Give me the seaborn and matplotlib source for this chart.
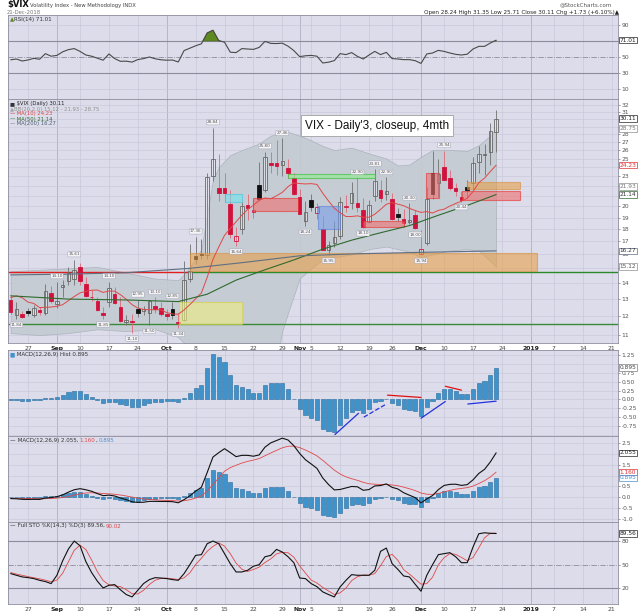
import matplotlib
matplotlib.use("Agg")
import matplotlib.pyplot as plt
import matplotlib.patches as mpatches
import numpy as np
import pandas as pd
import seaborn as sns

sns.set_style("white")
plt.rcParams["font.family"] = ["DejaVu Sans"]

W, H = 640, 614
BG = "#dcdcea"
GRID = "#c8c8da"
MONTH_GRID = "#a6a6bc"
RED = "#d2123c"

# trading days on the chart axis (market holidays left out)
days = pd.bdate_range("2018-08-22", "2019-01-22")
days = days[~days.isin(pd.to_datetime(["2018-09-03", "2018-11-22", "2018-12-05", "2018-12-25"]))]

tick_dates = ["2018-08-27", "2018-09-04", "2018-09-10", "2018-09-17", "2018-09-24", "2018-10-01",
              "2018-10-08", "2018-10-15", "2018-10-22", "2018-10-29", "2018-11-01", "2018-11-05",
              "2018-11-12", "2018-11-19", "2018-11-26", "2018-12-03", "2018-12-10", "2018-12-17",
              "2018-12-24", "2019-01-01", "2019-01-07", "2019-01-14", "2019-01-21"]
tick_text = ["27", "Sep", "10", "17", "24", "Oct", "8", "15", "22", "29", "Nov", "5", "12", "19",
             "26", "Dec", "10", "17", "24", "2019", "7", "14", "21"]
month_labels = {"Sep", "Oct", "Nov", "Dec", "2019"}

# daily $VIX candles, 22 Aug - 21 Dec 2018
prev_close = 12.86
open_ = [12.95, 12.05, 12.15, 12.30, 12.05, 12.35, 12.20, 13.40, 12.70, 13.75,
         14.15, 14.30, 15.10, 13.95, 13.10, 12.90, 12.20, 12.85, 13.30, 12.55,
         11.70, 11.75, 12.40, 12.30, 12.20, 12.60, 12.50, 12.15, 12.40, 11.70,
         11.80, 14.30, 15.90, 16.05, 15.95, 23.00, 21.80, 21.80, 20.20, 17.05,
         18.05, 20.10, 19.50, 22.10, 21.60, 24.50, 24.50, 24.30, 23.90, 22.80,
         20.90, 18.70, 20.60, 19.40, 18.00, 16.35, 16.90, 17.40, 19.95, 20.30,
         20.35, 19.70, 18.60, 21.00, 21.60, 21.20, 20.70, 19.30, 18.90, 18.60,
         19.20, 16.00, 16.90, 23.40, 22.30, 24.00, 22.80, 21.80, 20.90, 21.90,
         22.30, 24.60, 25.40, 25.80, 28.24]
high = [13.20, 12.85, 12.30, 12.50, 12.65, 12.55, 13.95, 13.80, 14.10, 14.20,
        15.10, 15.61, 15.40, 14.40, 13.55, 13.10, 12.55, 14.10, 13.75, 13.10,
        12.05, 12.15, 12.95, 12.60, 12.95, 13.10, 12.85, 12.40, 12.85, 12.20,
        15.55, 16.80, 17.36, 17.20, 23.40, 28.84, 25.50, 23.40, 21.60, 18.20,
        20.40, 21.20, 20.75, 24.59, 25.80, 25.80, 27.30, 27.46, 24.90, 23.40,
        21.70, 20.50, 21.20, 20.30, 19.10, 17.00, 18.70, 20.90, 21.10, 22.40,
        22.90, 20.80, 20.65, 23.81, 22.60, 22.90, 21.30, 19.90, 19.75, 20.30,
        19.70, 17.90, 21.90, 25.94, 24.90, 25.94, 23.70, 22.30, 21.50, 22.60,
        25.20, 26.50, 26.80, 29.50, 31.35]
low = [12.15, 11.84, 11.90, 12.00, 11.98, 12.10, 12.10, 12.75, 12.45, 13.15,
       13.90, 13.88, 13.90, 13.10, 12.90, 12.30, 11.85, 12.55, 12.70, 11.70,
       11.55, 11.10, 11.98, 12.05, 11.50, 12.20, 12.00, 11.80, 11.85, 11.34,
       11.75, 14.05, 15.30, 15.70, 15.70, 22.50, 20.50, 20.40, 17.30, 16.64,
       17.60, 18.80, 19.00, 20.50, 21.40, 23.40, 23.10, 23.00, 22.80, 21.10,
       19.30, 18.24, 19.60, 18.90, 16.30, 15.95, 16.55, 17.20, 19.50, 19.80,
       19.50, 18.10, 18.50, 20.50, 20.40, 20.60, 18.80, 18.70, 18.30, 18.40,
       18.00, 15.94, 16.70, 20.70, 20.90, 22.60, 21.60, 21.00, 20.44, 20.80,
       21.70, 23.40, 23.20, 24.30, 25.71]
close = [12.25, 12.41, 11.99, 12.16, 12.50, 12.25, 13.53, 12.86, 12.88, 13.91,
         14.65, 14.88, 14.16, 13.22, 13.14, 12.37, 12.07, 13.68, 12.79, 11.75,
         11.80, 11.68, 12.20, 12.42, 12.89, 12.41, 12.12, 12.00, 12.05, 11.61,
         14.22, 14.82, 15.69, 15.95, 22.96, 24.98, 21.31, 21.30, 17.62, 17.40,
         20.06, 19.89, 19.64, 20.71, 25.23, 24.22, 24.16, 24.70, 23.35, 21.23,
         19.34, 19.51, 19.96, 19.91, 16.36, 16.72, 17.36, 20.45, 20.02, 21.25,
         19.98, 18.14, 20.10, 22.48, 20.80, 21.52, 18.90, 19.02, 18.49, 18.79,
         18.07, 16.44, 20.74, 21.19, 23.23, 22.64, 21.76, 21.46, 20.65, 21.63,
         24.52, 25.58, 25.58, 28.38, 30.11]

ma10 = [13.09, 13.20, 13.08, 12.82, 12.74, 12.50, 12.51, 12.53, 12.57, 12.67,
        12.91, 13.16, 13.38, 13.48, 13.55, 13.56, 13.41, 13.50, 13.49, 13.27,
        12.99, 12.67, 12.47, 12.39, 12.37, 12.37, 12.37, 12.21, 12.13, 12.12,
        12.36, 12.67, 13.02, 13.38, 14.38, 15.64, 16.56, 17.49, 18.05, 18.63,
        19.21, 19.72, 20.11, 20.59, 20.81, 20.74, 21.02, 21.36, 21.94, 22.32,
        22.25, 22.21, 22.24, 22.16, 21.27, 20.52, 19.84, 19.42, 19.09, 19.09,
        19.15, 19.02, 19.03, 19.29, 19.73, 20.21, 20.36, 20.22, 20.07, 19.82,
        19.63, 19.46, 19.53, 19.40, 19.64, 19.75, 20.04, 20.28, 20.50, 20.78,
        21.43, 22.34, 22.82, 23.54, 24.23]
ma50_day = [0, 10, 20, 29, 34, 39, 44, 49, 54, 59, 64, 69, 74, 79, 84]
ma50 = [13.2, 13.0, 12.95, 12.85, 13.3, 14.2, 14.9, 15.6, 16.4, 17.1, 17.7, 18.3, 19.2, 20.1, 21.14]
ma200_day = [0, 10, 20, 31, 40, 50, 60, 70, 84]
ma200 = [14.55, 14.6, 14.7, 15.0, 15.4, 15.9, 16.05, 16.15, 16.27]
bb_day = [0, 5, 10, 15, 20, 25, 29, 30, 31, 32, 33, 34, 35, 36, 38, 40, 43, 45, 47, 48,
          50, 52, 54, 56, 59, 62, 65, 67, 69, 71, 73, 76, 79, 81, 83, 84]
bb_upper = [14.8, 14.9, 15.0, 15.1, 14.7, 14.3, 14.2, 14.6, 15.1, 15.7, 16.4, 19.3, 22.6, 24.0,
            25.4, 26.0, 26.8, 27.8, 28.2, 28.3, 27.8, 27.2, 26.5, 26.0, 26.3, 25.6, 25.0, 24.2,
            24.3, 25.2, 26.0, 26.0, 25.9, 26.6, 27.8, 28.75]
bb_lower = [11.1, 11.0, 11.1, 11.3, 11.2, 11.3, 10.9, 10.6, 10.3, 10.0, 9.6, 8.5, 7.5, 7.2,
            7.0, 7.3, 7.8, 8.6, 11.2, 12.2, 14.3, 15.0, 15.6, 15.8, 16.0, 16.4, 16.6, 16.4,
            16.2, 15.8, 16.0, 16.3, 16.4, 16.3, 15.5, 15.12]

rsi = [46.5, 47.5, 45.0, 46.3, 48.3, 47.2, 54.2, 51.0, 52.0, 56.5,
       59.2, 60.5, 57.0, 52.5, 51.0, 48.5, 46.0, 53.8, 48.0, 44.6,
       44.8, 43.6, 46.8, 48.0, 50.0, 47.8, 46.5, 46.0, 46.2, 43.8,
       58.0, 61.0, 64.0, 66.5, 80.0, 83.5, 70.5, 68.5, 56.0, 55.5,
       60.5, 60.0, 59.5, 62.0, 69.5, 67.0, 66.8, 67.3, 63.5, 58.0,
       50.5, 51.5, 52.0, 51.0, 42.5, 43.5, 45.5, 54.2, 53.0, 55.5,
       50.8, 47.5, 52.5, 57.0, 53.0, 55.8, 48.0, 47.5, 46.7, 46.7,
       45.4, 42.0, 53.8, 55.0, 58.3, 57.0, 55.0, 53.3, 52.5, 53.5,
       60.0, 63.3, 63.3, 67.5, 71.01]

macd_hist = [-0.01, -0.02, -0.04, -0.04, -0.03, -0.03, 0.03, 0.04, 0.07, 0.12,
             0.20, 0.25, 0.24, 0.15, 0.07, -0.03, -0.10, -0.06, -0.08, -0.14,
             -0.17, -0.22, -0.20, -0.15, -0.09, -0.07, -0.06, -0.05, -0.05, -0.08,
             0.05, 0.18, 0.32, 0.40, 0.87, 1.27, 1.18, 1.05, 0.70, 0.40,
             0.36, 0.28, 0.18, 0.17, 0.40, 0.47, 0.46, 0.45, 0.29, 0.02,
             -0.27, -0.45, -0.52, -0.58, -0.82, -0.90, -0.92, -0.72, -0.52, -0.36,
             -0.30, -0.37, -0.27, -0.08, -0.05, 0.02, -0.11, -0.15, -0.26, -0.30,
             -0.33, -0.46, -0.22, -0.05, 0.18, 0.30, 0.28, 0.23, 0.14, 0.14,
             0.29, 0.47, 0.53, 0.70, 0.895]
macd_signal = [-0.06, -0.06, -0.065, -0.07, -0.075, -0.08, -0.075, -0.065, -0.05, -0.02,
               0.03, 0.09, 0.15, 0.19, 0.20, 0.19, 0.165, 0.15, 0.13, 0.095,
               0.05, 0.0, -0.05, -0.09, -0.11, -0.13, -0.145, -0.155, -0.165, -0.185,
               -0.17, -0.125, -0.045, 0.055, 0.27, 0.59, 0.885, 1.20, 1.37, 1.48,
               1.58, 1.66, 1.72, 1.79, 1.92, 2.05, 2.17, 2.29, 2.363, 2.368,
               2.30, 2.188, 2.058, 1.913, 1.708, 1.483, 1.253, 1.073, 0.943, 0.853,
               0.778, 0.686, 0.618, 0.598, 0.586, 0.591, 0.563, 0.526, 0.461, 0.386,
               0.303, 0.188, 0.133, 0.121, 0.166, 0.241, 0.311, 0.368, 0.403, 0.438,
               0.511, 0.628, 0.761, 0.936, 1.160]
macd_line = [-0.07, -0.08, -0.105, -0.11, -0.105, -0.11, -0.045, -0.025, 0.02, 0.10,
             0.23, 0.34, 0.39, 0.34, 0.27, 0.16, 0.065, 0.09, 0.05, -0.045,
             -0.12, -0.22, -0.25, -0.24, -0.20, -0.20, -0.205, -0.205, -0.215, -0.265,
             -0.12, 0.055, 0.275, 0.455, 1.14, 1.86, 2.065, 2.25, 2.07, 1.88,
             1.94, 1.94, 1.90, 1.96, 2.32, 2.52, 2.63, 2.74, 2.653, 2.388,
             2.03, 1.738, 1.538, 1.333, 0.888, 0.583, 0.333, 0.353, 0.423, 0.493,
             0.478, 0.316, 0.348, 0.518, 0.536, 0.611, 0.453, 0.376, 0.201, 0.086,
             -0.027, -0.272, -0.087, 0.071, 0.346, 0.541, 0.591, 0.598, 0.543, 0.578,
             0.801, 1.098, 1.291, 1.636, 2.055]

sto_k = [38.6, 36.5, 34.4, 33.5, 32.3, 30.1, 28.5, 25.9, 36.5, 55.0,
         70.0, 80.0, 74.0, 54.0, 40.0, 29.0, 20.4, 23.8, 24.6, 18.0,
         12.0, 9.0, 17.5, 26.0, 31.0, 33.5, 33.0, 32.3, 31.0, 30.1,
         38.6, 50.0, 61.8, 62.7, 76.6, 80.0, 76.6, 64.0, 51.3, 40.7,
         40.7, 42.8, 48.0, 50.0, 60.0, 61.8, 69.4, 66.0, 60.0, 52.5,
         33.0, 32.3, 25.9, 22.0, 15.4, 12.0, 9.0, 21.7, 30.0, 37.3,
         36.5, 36.5, 36.5, 42.8, 66.9, 71.1, 51.3, 44.0, 35.6, 34.4,
         25.0, 16.2, 36.5, 50.0, 62.7, 64.0, 65.2, 60.0, 52.5, 52.5,
         72.4, 89.3, 90.5, 89.8, 89.56]
sto_d = [40.0, 38.0, 36.5, 34.8, 33.4, 32.0, 30.3, 28.2, 30.3, 39.1,
         53.8, 68.3, 74.7, 69.3, 56.0, 41.0, 29.8, 24.4, 22.9, 22.1,
         18.2, 13.0, 12.8, 17.5, 24.8, 30.2, 32.5, 32.9, 32.1, 31.1,
         33.2, 39.6, 50.1, 58.2, 67.0, 73.1, 77.7, 73.5, 64.0, 52.0,
         44.2, 41.4, 43.8, 46.9, 52.7, 57.3, 63.7, 65.7, 65.1, 59.5,
         48.5, 39.3, 30.4, 26.7, 21.1, 16.5, 12.1, 14.2, 20.2, 29.7,
         34.6, 36.8, 36.5, 38.6, 48.7, 60.3, 63.1, 55.5, 43.6, 38.0,
         31.7, 25.2, 25.9, 34.2, 49.7, 58.9, 64.0, 63.1, 59.2, 55.0,
         59.1, 71.4, 84.1, 89.9, 90.02]

# annotations drawn on the chart: (first day, last day, low, high, kind)
zones = [(29.1, 40.1, 11.58, 12.85, "yellow"), (31.0, 91.1, 14.8, 16.1, "orange"),
         (37.0, 40.1, 20.4, 21.2, "cyan"), (42.0, 49.8, 19.6, 20.8, "red"),
         (47.9, 63.1, 22.8, 23.3, "green"), (53.1, 56.9, 18.0, 20.0, "blue"),
         (61.0, 68.1, 18.2, 18.7, "red"), (71.9, 74.2, 20.8, 23.4, "red"),
         (79.0, 88.1, 21.7, 22.4, "orange"), (78.1, 88.1, 20.6, 21.5, "red")]
zone_style = {"yellow": ("#eeee80", "#d8d040"), "orange": ("#e8a04a", "#d89040"),
              "cyan": ("#70e4f0", "#40c8e0"), "red": ("#f07070", "#e83030"),
              "green": ("#90f090", "#30c030"), "blue": ("#7a9ee8", "#5a80d8")}
swing_marks = [(1, "low"), (8, "high"), (11, "high"), (16, "low"), (17, "high"), (21, "low"),
               (22, "high"), (24, "low"), (25, "high"), (28, "high"), (29, "low"), (32, "high"),
               (35, "high"), (39, "low"), (44, "high"), (47, "high"), (51, "low"), (55, "low"),
               (60, "high"), (61, "low"), (63, "high"), (65, "high"), (69, "high"), (70, "low"),
               (71, "low"), (75, "high"), (78, "low")]
hist_trends = [(56.1, -0.99, 60.2, -0.39, "#2233dd", "-"), (61.1, -0.50, 65.0, -0.13, "#2233dd", "--"),
               (65.2, 0.12, 71.0, 0.055, "#dd1111", "-"), (71.0, -0.53, 75.2, -0.06, "#2233dd", "-"),
               (75.2, 0.37, 78.0, 0.26, "#dd1111", "-"), (79.1, -0.13, 84.0, -0.05, "#2233dd", "-")]

n = len(close)
x = np.arange(n)
tick_pos = [days.get_loc(pd.Timestamp(d)) for d in tick_dates]
XMIN, XMAX = -0.55, 105.0

fig = plt.figure(figsize=(W / 100, H / 100), dpi=100)
fig.patch.set_facecolor("white")


def panel(top, bottom):
    ax = fig.add_axes([7.5 / W, 1 - bottom / H, 610 / W, (bottom - top) / H])
    ax.set_facecolor(BG)
    ax.set_xlim(XMIN, XMAX)
    for s in ax.spines.values():
        s.set_color("#8c8c9c")
        s.set_linewidth(0.6)
    ax.yaxis.tick_right()
    ax.tick_params(axis="y", labelsize=4.3, length=1.5, width=0.4, pad=1.2,
                   colors="#555555")
    ax.set_xticks(tick_pos)
    ax.set_xticks(np.arange(0, 105), minor=True)
    ax.tick_params(axis="x", which="both", labelbottom=False, length=0)
    for p, lab in zip(tick_pos, tick_text):
        ax.axvline(p, color=MONTH_GRID if lab in month_labels else GRID, lw=0.5, zorder=0)
    return ax


def right_ticks(ax, values, fmt, hidden=()):
    ax.set_yticks(values)
    ax.set_yticklabels(["" if v in hidden else fmt.format(v) for v in values])


def date_labels(ax):
    ax.set_xticklabels(tick_text)
    ax.tick_params(axis="x", which="major", labelbottom=True, labelsize=4.4, length=1.5,
                   width=0.4, pad=1.0, colors="#444444")
    ax.tick_params(axis="x", which="minor", length=1.0, width=0.3, colors="#888888")
    for t in ax.get_xticklabels():
        if t.get_text() in month_labels:
            t.set_fontweight("bold")
            t.set_color("#222222")


def value_tag(ax, val, text, edge, color=None):
    ax.annotate(text, xy=(1.0, val), xycoords=("axes fraction", "data"), xytext=(1.5, 0),
                textcoords="offset points", ha="left", va="center", fontsize=4.2,
                color=color or edge, zorder=10, annotation_clip=False,
                bbox=dict(boxstyle="square,pad=0.12", fc="white", ec=edge, lw=0.5))


renderer = fig.canvas.get_renderer()


def text_run(px, py, parts, size=4.0):
    for s, c in parts:
        t = fig.text(px / W, 1 - py / H, s, color=c, fontsize=size, va="center", ha="left")
        px = t.get_window_extent(renderer).x1


# ---------------- RSI ----------------
ax_rsi = panel(15, 99)
ax_rsi.set_ylim(-2.5, 102.5)
for v in (10, 90):
    ax_rsi.axhline(v, color=GRID, lw=0.5, zorder=0)
ax_rsi.axhline(70, color="#8c8c9c", lw=0.8, zorder=1)
ax_rsi.axhline(30, color="#8c8c9c", lw=0.8, zorder=1)
ax_rsi.axhline(50, color="#8c8c9c", lw=0.6, ls="-.", zorder=1)
r = np.array(rsi)
ax_rsi.fill_between(x, r, 70, where=r > 70, interpolate=True, color="#5f8a22",
                    edgecolor="#3f6010", lw=0.4, zorder=2)
sns.lineplot(x=x, y=r, ax=ax_rsi, color="#4a4a4a", linewidth=0.8, legend=False, zorder=3)
right_ticks(ax_rsi, [10, 30, 50, 70, 90], "{:.0f}", hidden=(70,))
value_tag(ax_rsi, 71.01, "71.01", "#222222")

# ---------------- price ----------------
ax = panel(99, 343)
ax.set_yscale("log")
ax.set_ylim(10.6, 32.97)
for v in range(11, 33):
    ax.axhline(v, color=GRID, lw=0.45, zorder=0)
ax.fill_between(bb_day, bb_lower, bb_upper, color="#c3cbd1", alpha=0.9,
                edgecolor="#a8b0b8", lw=0.5, zorder=1)
ax.hlines(14.72, XMIN, 31.0, color="#e02020", lw=1.0, zorder=2)
ax.hlines(14.72, 31.0, XMAX, color="#2a8a2a", lw=1.0, zorder=2)
ax.hlines(11.58, XMIN, XMAX, color="#3a8a3a", lw=1.0, zorder=2)

prev = np.r_[prev_close, close[:-1]]
for i in range(n):
    o, h, l, c = open_[i], high[i], low[i], close[i]
    up = c >= prev[i]
    col = "#111111" if up else RED
    wick = "#707070" if up else "#e06878"
    ax.vlines(i, l, h, color=wick, lw=0.6, zorder=4)
    hollow = c > o
    body = max(abs(c - o), 0.04)
    face = "none" if hollow else col
    edge = "#666666" if (hollow and up) else col
    ax.bar(i, body, bottom=min(o, c), width=0.62, facecolor=face, edgecolor=edge,
           linewidth=0.6, zorder=4)
    if hollow:
        ax.bar(i, body, bottom=min(o, c), width=0.62, facecolor="#e8e8ee", alpha=0.55,
               edgecolor="none", zorder=3.9)

for x0, x1, lo, hi, kind in zones:
    fc, ec = zone_style[kind]
    ax.add_patch(mpatches.Rectangle((x0, lo), x1 - x0, hi - lo, facecolor=fc, edgecolor=ec,
                                    alpha=0.6, lw=0.8, zorder=5))

sns.lineplot(x=x, y=ma10, ax=ax, color="#e04848", linewidth=0.7, legend=False, zorder=6)
sns.lineplot(x=ma50_day, y=ma50, ax=ax, color="#2f6a2f", linewidth=0.8, legend=False, zorder=6)
sns.lineplot(x=ma200_day, y=ma200, ax=ax, color="#5f6f84", linewidth=0.8, legend=False, zorder=6)

for i, side in swing_marks:
    v = high[i] if side == "high" else low[i]
    ax.annotate(f"{v:.2f}", (i, v), xytext=(0, 2.5 if side == "high" else -2.5),
                textcoords="offset points", ha="center",
                va="bottom" if side == "high" else "top", fontsize=3.0, color="#555555",
                bbox=dict(boxstyle="round,pad=0.15", fc="#f4f4f8", ec="#9a9aaa", lw=0.3),
                zorder=8)

ax.text(0.4875, 0.891, "VIX - Daily'3, closeup, 4mth", transform=ax.transAxes,
        fontsize=8.5, family=["Liberation Sans", "DejaVu Sans"], color="#111111",
        va="center", ha="left", zorder=9,
        bbox=dict(boxstyle="square,pad=0.35", fc="white", ec="#a0a0a0", lw=0.6))

ax.yaxis.set_minor_locator(matplotlib.ticker.NullLocator())
right_ticks(ax, list(range(11, 33)), "{:.0f}", hidden=(15, 21, 22, 24, 29, 30))
for val, txt, ec, tc in [(30.11, "30.11", "#222222", "#222222"), (28.75, "28.75", "#909090", "#777777"),
                         (24.23, "24.23", "#e03030", "#e03030"), (21.93, "21.93", "#909090", "#777777"),
                         (21.14, "21.14", "#2f6a2f", "#333333"), (16.27, "16.27", "#5f6f84", "#333333"),
                         (15.12, "15.12", "#909090", "#555555")]:
    value_tag(ax, val, txt, ec, tc)
date_labels(ax)

# ---------------- MACD histogram ----------------
ax_h = panel(350, 436)
ax_h.set_ylim(-1.03, 1.39)
for v in np.arange(-1.0, 1.3, 0.25):
    ax_h.axhline(v, color=GRID, lw=0.45, zorder=0)
ax_h.bar(x, macd_hist, width=0.72, color="#3f93cd", edgecolor="#2a6c9c", linewidth=0.4, zorder=2)
for x0, y0, x1, y1, c, ls in hist_trends:
    ax_h.plot([x0, x1], [y0, y1], color=c, lw=0.9, ls=ls, zorder=3)
right_ticks(ax_h, [-0.75, -0.5, -0.25, 0.0, 0.25, 0.5, 0.75, 1.0, 1.25], "{:.2f}", hidden=(1.0,))
value_tag(ax_h, 0.895, "0.895", "#808080", "#444444")

# ---------------- MACD ----------------
ax_m = panel(436, 522)
ax_m.set_ylim(-1.16, 2.84)
for v in np.arange(-1.0, 2.6, 0.5):
    ax_m.axhline(v, color=GRID, lw=0.45, zorder=0)
ax_m.bar(x, macd_hist, width=0.72, color="#3f93cd", edgecolor="#2a6c9c", linewidth=0.4, zorder=2)
sns.lineplot(x=x, y=macd_signal, ax=ax_m, color="#e04848", linewidth=0.6, legend=False, zorder=3)
sns.lineplot(x=x, y=macd_line, ax=ax_m, color="#111111", linewidth=0.8, legend=False, zorder=4)
right_ticks(ax_m, [-1.0, -0.5, 0.0, 0.5, 1.0, 1.5, 2.0, 2.5], "{:.1f}", hidden=(1.0, 2.0))
value_tag(ax_m, 2.055, "2.055", "#222222")
value_tag(ax_m, 1.160, "1.160", "#e03030")
value_tag(ax_m, 0.895, "0.895", "#4a8fd0")

# ---------------- Full stochastics ----------------
ax_s = panel(522, 604)
ax_s.set_ylim(0, 104.2)
ax_s.axhline(80, color="#8c8c9c", lw=0.8, zorder=1)
ax_s.axhline(20, color="#8c8c9c", lw=0.8, zorder=1)
ax_s.axhline(50, color="#8c8c9c", lw=0.6, ls="-.", zorder=1)
sns.lineplot(x=x, y=sto_d, ax=ax_s, color="#e04848", linewidth=0.6, legend=False, zorder=3)
sns.lineplot(x=x, y=sto_k, ax=ax_s, color="#111111", linewidth=0.8, legend=False, zorder=4)
right_ticks(ax_s, [20, 50, 80], "{:.0f}")
value_tag(ax_s, 89.56, "89.56", "#222222")
date_labels(ax_s)

for a in (ax_rsi, ax, ax_h, ax_m, ax_s):
    a.set_xlabel("")
    a.set_ylabel("")

# ---------------- header and panel legends ----------------
text_run(7, 5, [(r"\$VIX", "#111111")], 6.0)
fig.texts[-1].set_fontweight("bold")
fig.text(29.5 / W, 1 - 5 / H, "Volatility Index - New Methodology INDX", fontsize=3.8,
         va="center", color="#444444")
fig.text(7 / W, 1 - 12 / H, "21-Dec-2018", fontsize=3.8, va="center", color="#777777")
fig.text(612 / W, 1 - 5 / H, "@StockCharts.com", fontsize=4.0, va="center", ha="right",
         color="#555555")
fig.text(619 / W, 1 - 12.5 / H,
         "Open 28.24 High 31.35 Low 25.71 Close 30.11 Chg +1.73 (+6.10%)\u25b2",
         fontsize=4.1, va="center", ha="right", color="#222222")

text_run(10, 19.5, [("\u25b2", "#5f8a22"), ("RSI(14) 71.01", "#333333")])
text_run(10, 104, [("\u25a0", "#333333"), (" $VIX (Daily) 30.11", "#222222")], 3.8)
text_run(10, 109, [("\u25b2", "#a0a0a0"), ("BB(20,2.0) 15.12 - 21.93 - 28.75", "#909090")], 3.8)
text_run(10, 114, [("\u2014", "#e02020"), (" MA(10) 24.23", "#e04848")], 3.8)
text_run(10, 119, [("\u2014", "#2f6a2f"), (" MA(50) 21.14", "#2f6a2f")], 3.8)
text_run(10, 124, [("\u2014", "#5f6f84"), (" MA(200) 16.27", "#4f5f74")], 3.8)
text_run(10, 354.5, [("\u25a0", "#3f93cd"), (" MACD(12,26,9) Hist 0.895", "#333333")])
text_run(10, 440.5, [("\u2014", "#111111"), (" MACD(12,26,9) 2.055, ", "#333333"),
                     ("1.160", "#e04848"), (", ", "#333333"), ("0.895", "#4a8fd0")])
text_run(10, 526, [("\u2014", "#111111"), (" Full STO %K(14,3) %D(3) 89.56, ", "#333333"),
                   ("90.02", "#e04848")])

fig.savefig("out.png", dpi=100, facecolor="white")
